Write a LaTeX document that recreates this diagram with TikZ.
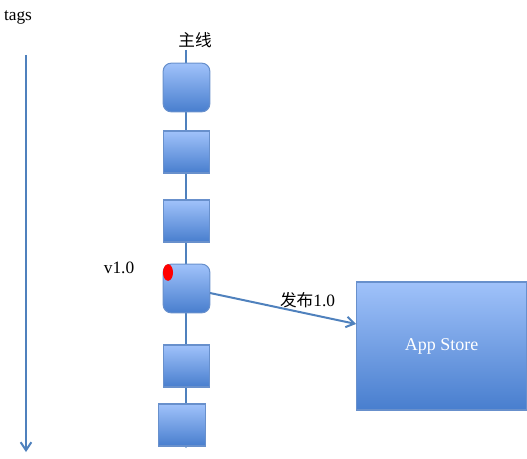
\documentclass[tikz,border=0pt]{standalone}
\usepackage{fontspec}
\setmainfont{Liberation Serif}
\newfontfamily\cjk{Noto Sans CJK SC}
\usepackage{tikz}
\usetikzlibrary{arrows.meta}
\usetikzlibrary{shapes.geometric}

\definecolor{linecol}{RGB}{79,129,189}
\definecolor{boxtop}{RGB}{160,194,250}
\definecolor{boxbot}{RGB}{72,126,206}
\definecolor{boxedge}{RGB}{104,144,204}

\tikzset{
  commit/.style={rectangle, draw=boxedge, line width=0.8pt, top color=boxtop, bottom color=boxbot, minimum width=35pt, minimum height=31.5pt, inner sep=0pt},
  rcommit/.style={commit, rounded corners=6pt, minimum height=36.5pt},
  flow/.style={draw=linecol, line width=1.5pt, -{Straight Barb[length=6pt,width=8pt]}},
  lbl/.style={font=\fontsize{13}{15}\selectfont, inner sep=0pt},
}

\begin{document}
\begin{tikzpicture}[x=0.75pt, y=-0.75pt]
\useasboundingbox (0,0) rectangle (527,459);

% First, the tags axis
\draw (18,17) node[lbl] (tags) {tags};
\coordinate (tagtop) at (26,55);
\coordinate (tagbot) at (26,452);
\draw[flow] (tagtop) -- (tagbot);

% Main line, drawn behind the commits
\coordinate (maintop) at (186,50);
\coordinate (mainbot) at (186,448);
\draw[flow, -{Straight Barb[length=3pt,width=5pt]}] (maintop) -- (mainbot);
\draw (195,40) node[lbl, font=\cjk\fontsize{12.5}{15}\selectfont] (main) {主线};

% Commits on the main line
\draw (186.5,87.5) node[rcommit] (c1) {};
\draw (186.5,152) node[commit] (c2) {};
\draw (186.5,221) node[commit] (c3) {};
\draw (186.5,288.5) node[rcommit] (c4) {};
\draw (186.5,366) node[commit] (c5) {};
\draw (182,425) node[commit] (c6) {};

% Tag v1.0 on the fourth commit
\draw (168,272.5) node[ellipse, fill=red, minimum width=7.5pt, minimum height=12.5pt, inner sep=0pt] (tag) {};
\draw (119,268) node[lbl] (ver) {v1.0};

% Release to the App Store
\draw (441.5,346) node[rectangle, draw=boxedge, line width=0.8pt, top color=boxtop, bottom color=boxbot, minimum width=127pt, minimum height=96pt, inner sep=0pt, text=white, font=\fontsize{13.5}{16}\selectfont] (store) {App Store};
\coordinate (relstart) at (210,293);
\coordinate (relend) at (356,324);
\draw[flow] (relstart) -- (relend);
\draw (307.5,300) node[lbl] (rel) {{\cjk\fontsize{12.5}{15}\selectfont 发布}1.0};

\end{tikzpicture}
\end{document}
